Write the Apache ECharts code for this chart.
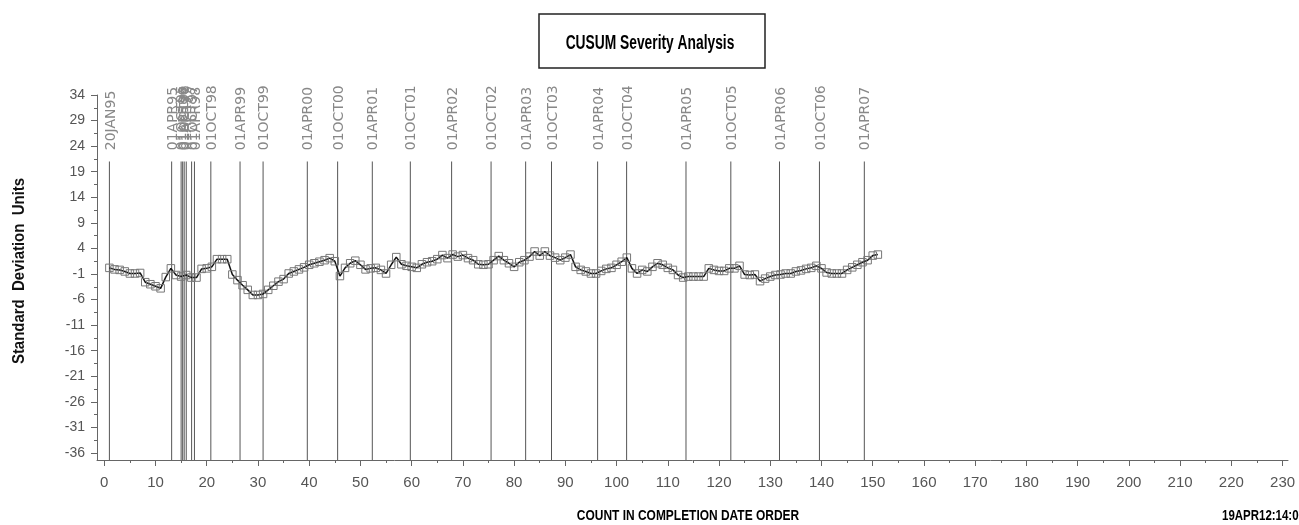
<!DOCTYPE html>
<html>
<head>
<meta charset="utf-8">
<script src="https://cdn.jsdelivr.net/npm/echarts@6/dist/echarts.min.js"></script>
<style>
html,body{margin:0;padding:0;background:#fff;}
#chart{width:1299px;height:525px;}
</style>
</head>
<body>
<div id="chart"></div>
<script>
// ---- data ----
const cusum = [
  0.2, -0.1, -0.2, -0.5, -0.9, -0.9, -0.8, -2.6, -3.0, -3.4,
  -3.8, -1.6, 0.1, -1.2, -1.5, -1.2, -1.7, -1.7, 0.0, 0.1,
  0.4, 1.9, 1.9, 1.9, -1.1, -2.2, -3.2, -4.1, -5.1, -5.1,
  -4.9, -4.1, -3.3, -2.5, -2.0, -0.9, -0.5, -0.1, 0.3, 0.8,
  1.1, 1.4, 1.7, 2.1, 1.5, -1.4, 0.2, 1.1, 1.6, 0.8,
  -0.1, 0.1, 0.2, -0.2, -0.9, 0.8, 2.3, 0.9, 0.6, 0.4,
  0.2, 0.9, 1.3, 1.5, 1.9, 2.7, 2.1, 2.8, 2.4, 2.7,
  2.1, 1.7, 0.9, 0.8, 0.9, 1.7, 2.5, 1.7, 1.1, 0.4,
  1.3, 1.7, 2.4, 3.4, 2.6, 3.4, 2.6, 2.2, 1.7, 2.2,
  2.8, 0.4, -0.2, -0.5, -0.9, -0.9, -0.4, 0.0, 0.2, 0.8,
  1.4, 2.2, 0.1, -0.9, -0.2, -0.5, 0.4, 1.1, 0.8, 0.2,
  -0.2, -1.2, -1.7, -1.5, -1.5, -1.5, -1.5, 0.1, -0.2, -0.4,
  -0.4, 0.1, 0.1, 0.6, -1.1, -1.2, -1.1, -2.4, -1.9, -1.5,
  -1.2, -1.1, -0.9, -0.9, -0.5, -0.3, 0.0, 0.2, 0.6, 0.1,
  -0.7, -0.9, -0.9, -0.9, -0.2, 0.3, 0.8, 1.3, 1.7, 2.6,
  2.8
];
const markerPos = [1, 13.15, 15.0, 15.3, 15.6, 16.0, 17.05, 17.6, 20.8, 26.5, 31.0,
  39.63, 45.55, 52.32, 59.74, 67.8, 75.5, 82.25, 87.3, 96.3, 101.96,
  113.55, 122.3, 131.8, 139.6, 148.36];
const markerLabels = ['20JAN95', '01APR95', '01OCT95', '01APR96', '01OCT96', '01APR97', '01OCT97', '01APR98',
  '01OCT98', '01APR99', '01OCT99', '01APR00', '01OCT00', '01APR01', '01OCT01', '01APR02',
  '01OCT02', '01APR03', '01OCT03', '01APR04', '01OCT04', '01APR05', '01OCT05', '01APR06',
  '01OCT06', '01APR07'];
const xTicks = [0,10,20,30,40,50,60,70,80,90,100,110,120,130,140,150,160,170,180,190,200,210,220,230];
const xMinorTicks = [5,15,25,35,45,55,65,75,85,95,105,115,125,135,145,155,165,175,185,195,205,215,225];
const yTicks = [-36,-31,-26,-21,-16,-11,-6,-1,4,9,14,19,24,29,34];
const yMinorTicks = [-33.5,-28.5,-23.5,-18.5,-13.5,-8.5,-3.5,1.5,6.5,11.5,16.5,21.5,26.5,31.5];

// ---- layout / style constants ----
const SANS = "'Liberation Sans',Arial,sans-serif";
const X_MIN = -1.42, X_MAX = 231.06, Y_MIN = -37.37, Y_MAX = 34;
const LINE_TOP = 21, LABEL_BASE = 23.2;
const axisColor = '#666';

const chart = echarts.init(document.getElementById('chart'), null, {renderer: 'canvas'});

const option = {
  animation: false,
  backgroundColor: '#fff',
  grid: {left: 97, right: 11, top: 95, bottom: 65, containLabel: false},
  xAxis: [{
    type: 'value', min: X_MIN, max: X_MAX, position: 'bottom',
    axisLine: {show: true, onZero: false, lineStyle: {color: axisColor, width: 1}},
    axisTick: {show: true, customValues: xTicks, length: 6, lineStyle: {color: axisColor}},
    axisLabel: {show: true, customValues: xTicks, fontSize: 15, color: '#555', fontFamily: SANS, margin: 15},
    splitLine: {show: false}
  }, {
    type: 'value', min: X_MIN, max: X_MAX, position: 'bottom',
    axisLine: {show: false, onZero: false},
    axisTick: {show: true, customValues: xMinorTicks, length: 3, lineStyle: {color: axisColor}},
    axisLabel: {show: false},
    splitLine: {show: false}
  }],
  yAxis: [{
    type: 'value', min: Y_MIN, max: Y_MAX, position: 'left',
    axisLine: {show: true, onZero: false, lineStyle: {color: axisColor, width: 1}},
    axisTick: {show: true, customValues: yTicks, length: 6, lineStyle: {color: axisColor}},
    axisLabel: {show: true, customValues: yTicks, fontSize: 14, color: '#555', fontFamily: SANS, margin: 12},
    splitLine: {show: false}
  }, {
    type: 'value', min: Y_MIN, max: Y_MAX, position: 'left',
    axisLine: {show: false, onZero: false},
    axisTick: {show: true, customValues: yMinorTicks, length: 3, lineStyle: {color: axisColor}},
    axisLabel: {show: false},
    splitLine: {show: false}
  }],
  series: [{
    type: 'custom',
    xAxisIndex: 0, yAxisIndex: 0,
    data: markerPos.map(v => [v]),
    encode: {x: 0},
    z: 1,
    silent: true,
    renderItem: function (params, api) {
      const x = api.value(0);
      const top = api.coord([x, LINE_TOP]);
      const bot = api.coord([x, Y_MIN]);
      const lab = api.coord([x, LABEL_BASE]);
      return {
        type: 'group',
        children: [{
          type: 'line',
          shape: {x1: top[0], y1: top[1], x2: bot[0], y2: bot[1]},
          style: {stroke: '#555', lineWidth: 1}
        }, {
          type: 'text',
          x: lab[0] + 1.5, y: lab[1],
          rotation: Math.PI / 2,
          style: {
            text: markerLabels[params.dataIndex],
            fill: '#888', fontSize: 14, fontFamily: "'DejaVu Sans',sans-serif",
            align: 'left', verticalAlign: 'middle'
          }
        }]
      };
    }
  }, {
    type: 'line',
    xAxisIndex: 0, yAxisIndex: 0,
    data: cusum.map((v, i) => [i + 1, v]),
    symbol: 'rect', symbolSize: 7.5, showAllSymbol: true,
    itemStyle: {color: 'rgba(0,0,0,0)', borderColor: '#777', borderWidth: 1},
    lineStyle: {color: '#111', width: 1.5},
    z: 3
  }],
  graphic: [{
    type: 'rect',
    shape: {x: 539, y: 14, width: 226, height: 54},
    style: {fill: '#fff', stroke: '#222', lineWidth: 1.5}
  }, {
    type: 'text', x: 650, y: 43, scaleX: 0.69,
    style: {text: 'CUSUM Severity Analysis', fill: '#000', fontSize: 20, fontWeight: 'bold',
      fontFamily: SANS, align: 'center', verticalAlign: 'middle'}
  }, {
    type: 'text', x: 20, y: 271, rotation: Math.PI / 2, scaleX: 0.935,
    style: {text: 'Standard  Deviation  Units', fill: '#111', fontSize: 16, fontWeight: 'bold',
      fontFamily: SANS, align: 'center', verticalAlign: 'middle'}
  }, {
    type: 'text', x: 688, y: 516, scaleX: 0.854,
    style: {text: 'COUNT IN COMPLETION DATE ORDER', fill: '#000', fontSize: 14, fontWeight: 'bold',
      fontFamily: SANS, align: 'center', verticalAlign: 'middle'}
  }, {
    type: 'text', x: 1222, y: 516, scaleX: 0.82,
    style: {text: '19APR12:14:06', fill: '#000', fontSize: 14, fontWeight: 'bold',
      fontFamily: SANS, align: 'left', verticalAlign: 'middle'}
  }]
};
chart.setOption(option);
</script>
</body>
</html>
